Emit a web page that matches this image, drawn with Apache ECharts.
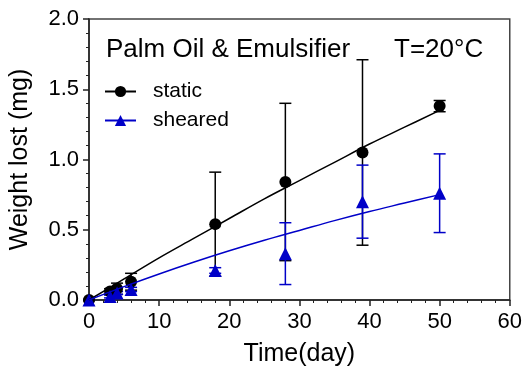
<!DOCTYPE html>
<html>
<head>
<meta charset="utf-8">
<script src="https://cdn.jsdelivr.net/npm/echarts@6/dist/echarts.min.js"></script>
<style>
  html, body {margin: 0; padding: 0; background: #fff;}
  #chart {width: 525px; height: 377px;}
</style>
</head>
<body>
<div id="chart"></div>
<script>
const days = [0, 3, 4, 6, 18, 28, 39, 50];
const staticMean = [0, 0.06, 0.08, 0.13, 0.54, 0.84, 1.05, 1.38];
const staticErr = [0.005, 0.02, 0.04, 0.06, 0.37, 0.56, 0.66, 0.04];
const shearedMean = [0, 0.025, 0.05, 0.075, 0.21, 0.33, 0.70, 0.76];
const shearedErr = [0, 0.01, 0.01, 0.015, 0.02, 0.22, 0.26, 0.28];

// fitted curves
const fitDays = [0, 5, 10, 15, 20, 25, 30, 35, 40, 45, 50];
const staticFit = [0, 0.15, 0.30, 0.44, 0.58, 0.72, 0.85, 0.98, 1.11, 1.23, 1.35];
const shearedFit = [0, 0.095, 0.185, 0.27, 0.35, 0.425, 0.495, 0.565, 0.63, 0.69, 0.75];

const legendNames = ['static', 'sheared'];

const font = '"Liberation Sans", Arial, sans-serif';
const black = '#000';
const blue = '#0000c8';

function errorBars(mean, err, color) {
  return {
    type: 'custom',
    silent: true,
    data: days.map((d, i) => [d, mean[i] - err[i], mean[i] + err[i]]),
    encode: {x: 0, y: [1, 2]},
    renderItem: (params, api) => {
      const lo = api.coord([api.value(0), api.value(1)]);
      const hi = api.coord([api.value(0), api.value(2)]);
      const half = 6;
      const style = {stroke: color, lineWidth: 1.5};
      return {
        type: 'group',
        children: [
          {type: 'line', shape: {x1: lo[0], y1: lo[1], x2: hi[0], y2: hi[1]}, style},
          {type: 'line', shape: {x1: lo[0] - half, y1: lo[1], x2: lo[0] + half, y2: lo[1]}, style},
          {type: 'line', shape: {x1: hi[0] - half, y1: hi[1], x2: hi[0] + half, y2: hi[1]}, style},
        ],
      };
    },
  };
}

function fitLine(name, values, color, symbol, size) {
  return {
    name,
    type: 'line',
    data: fitDays.map((d, i) => [d, values[i]]),
    smooth: 0.4,
    symbol,
    symbolSize: size,
    showSymbol: false,
    itemStyle: {color},
    lineStyle: {color, width: 1.5},
    silent: true,
  };
}

function points(mean, color, symbol, size) {
  return {
    type: 'scatter',
    data: days.map((d, i) => [d, mean[i]]),
    symbol,
    symbolSize: size,
    itemStyle: {color, opacity: 1},
    silent: true,
  };
}

const chart = echarts.init(document.getElementById('chart'), null, {renderer: 'canvas'});
chart.setOption({
  animation: false,
  title: [
    {text: 'Palm Oil & Emulsifier', left: 106, top: 37, padding: 0,
     textStyle: {fontFamily: font, fontSize: 26, fontWeight: 'normal', color: '#000'}},
    {text: 'T=20°C', left: 394, top: 37, padding: 0,
     textStyle: {fontFamily: font, fontSize: 26, fontWeight: 'normal', color: '#000'}},
  ],
  legend: {
    data: legendNames,
    orient: 'vertical',
    left: 104,
    top: 81,
    padding: 0,
    itemWidth: 31,
    itemHeight: 14,
    itemGap: 8,
    textStyle: {fontFamily: font, fontSize: 21, color: '#000', padding: [0, 0, 0, 12]},
  },
  grid: {left: 88, right: 13, top: 19, bottom: 77, show: true, borderColor: '#444', borderWidth: 1.5},
  xAxis: {
    type: 'value',
    min: 0,
    max: 60,
    interval: 10,
    name: 'Time(day)',
    nameLocation: 'middle',
    nameGap: 42,
    nameTextStyle: {fontFamily: font, fontSize: 25, color: '#000'},
    axisLine: {onZero: false, lineStyle: {color: '#222', width: 1.5}},
    axisTick: {length: 6, lineStyle: {color: '#222', width: 1.5}},
    minorTick: {show: true, splitNumber: 5, length: 3, lineStyle: {color: '#222', width: 1}},
    axisLabel: {fontFamily: font, fontSize: 22, color: '#000', margin: 11},
    splitLine: {show: false},
  },
  yAxis: {
    type: 'value',
    min: 0,
    max: 2,
    interval: 0.5,
    name: 'Weight lost (mg)',
    nameLocation: 'middle',
    nameGap: 56,
    nameTextStyle: {fontFamily: font, fontSize: 25, color: '#000'},
    axisLine: {show: true, onZero: false, lineStyle: {color: '#222', width: 1.5}},
    axisTick: {show: true, length: 6, lineStyle: {color: '#222', width: 1.5}},
    minorTick: {show: true, splitNumber: 5, length: 3, lineStyle: {color: '#222', width: 1}},
    axisLabel: {fontFamily: font, fontSize: 22, color: '#000', margin: 10, formatter: v => v.toFixed(1)},
    splitLine: {show: false},
  },
  series: [
    fitLine('static', staticFit, black, 'circle', 12),
    errorBars(staticMean, staticErr, black),
    points(staticMean, black, 'circle', 12),
    fitLine('sheared', shearedFit, blue, 'triangle', 13),
    errorBars(shearedMean, shearedErr, blue),
    points(shearedMean, blue, 'triangle', 13),
  ],
});
</script>
</body>
</html>
